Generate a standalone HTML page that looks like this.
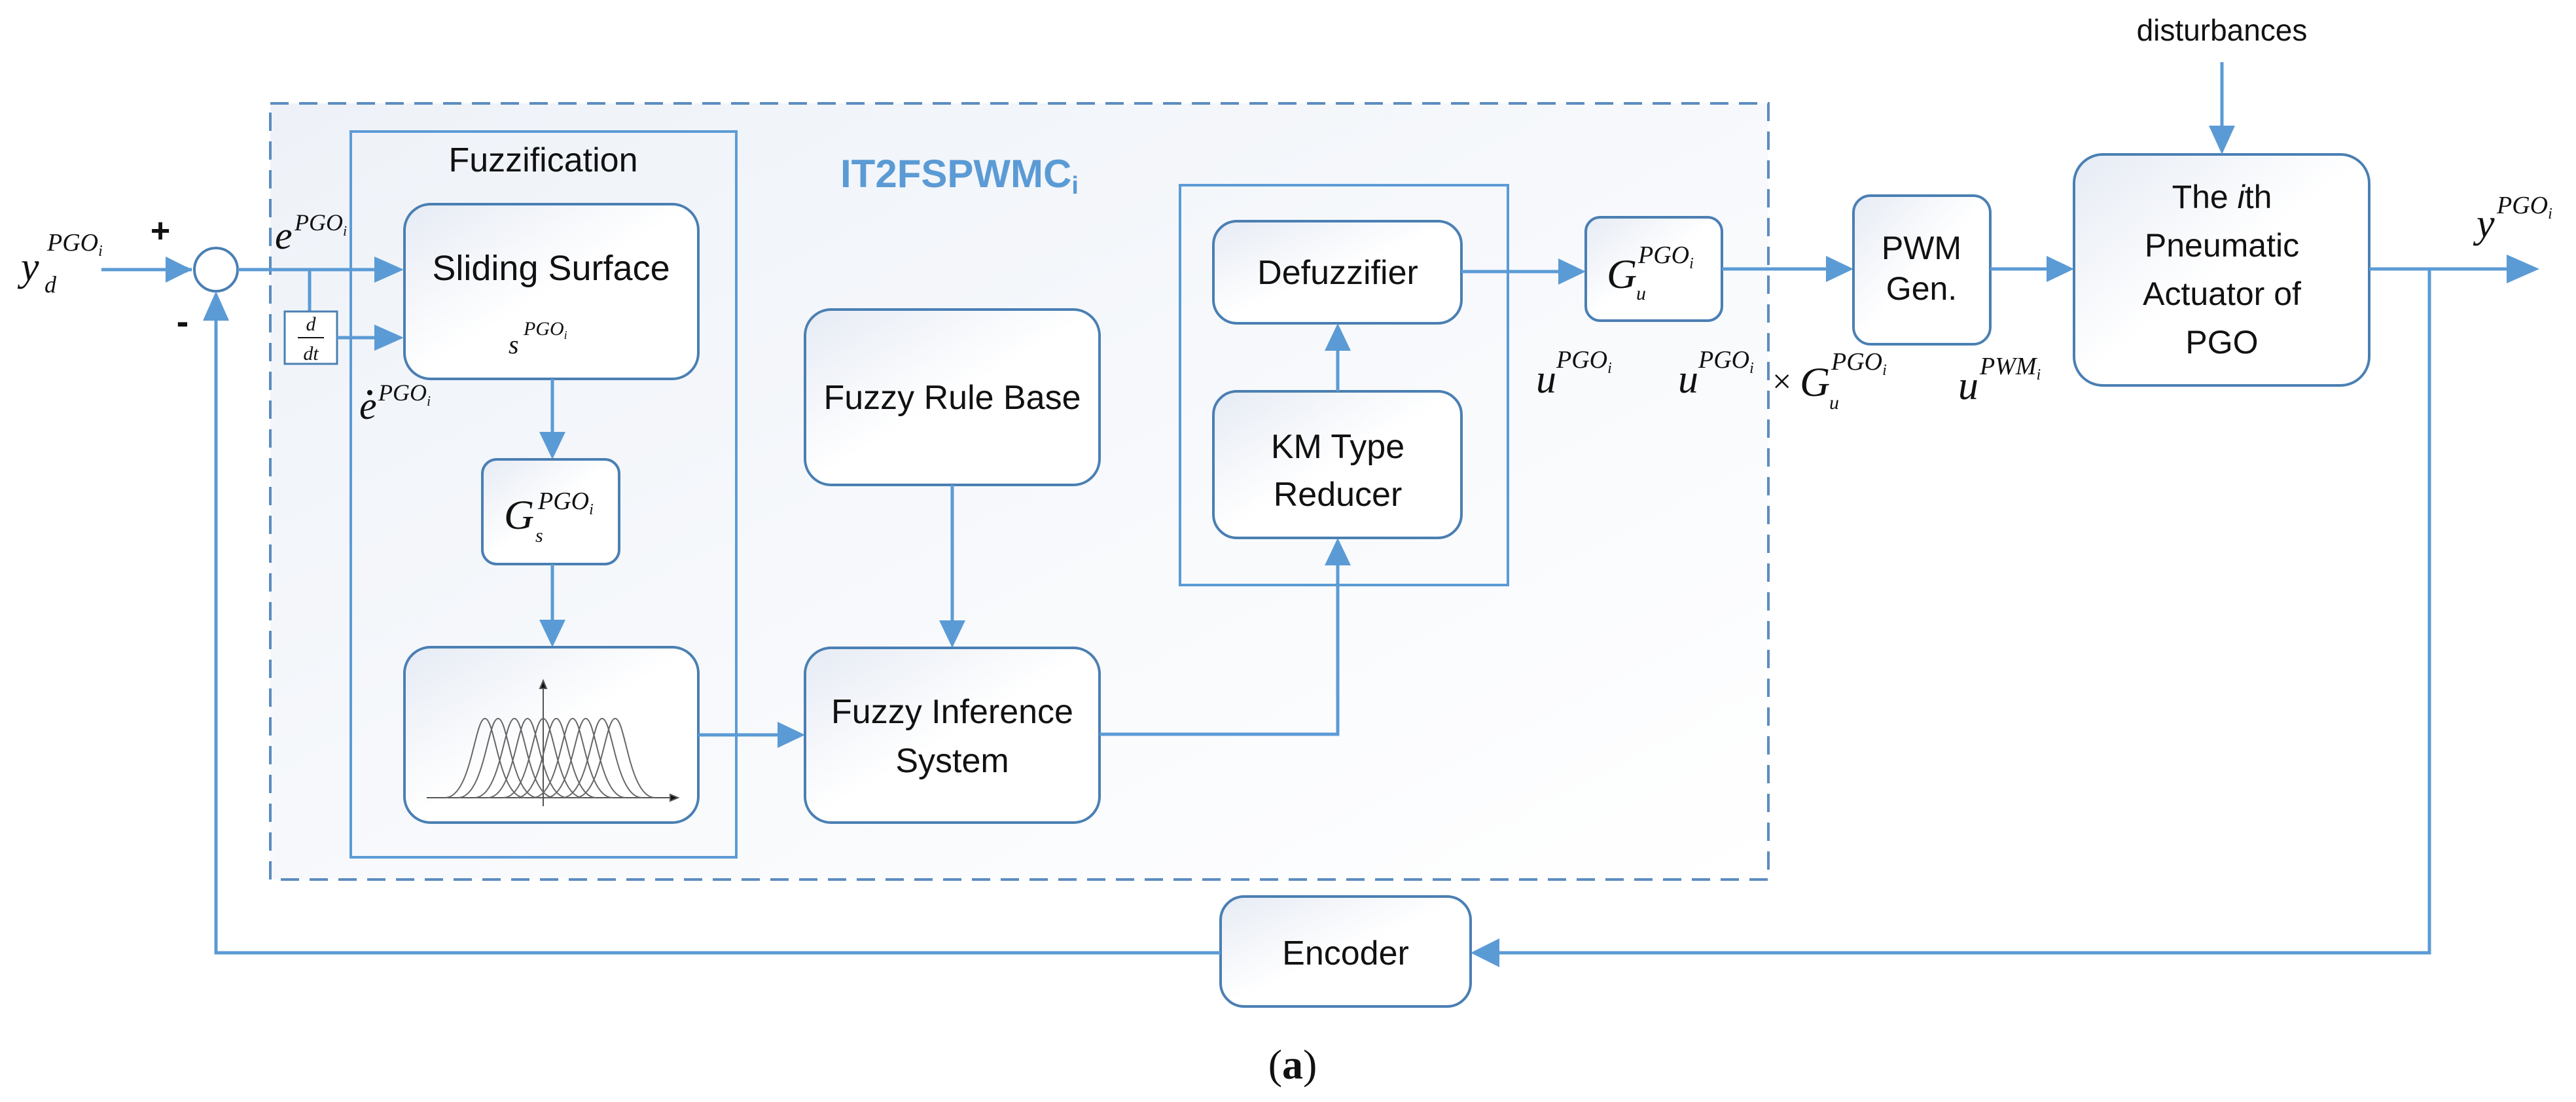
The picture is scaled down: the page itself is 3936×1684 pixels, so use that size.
<!DOCTYPE html>
<html><head><meta charset="utf-8"><style>
html,body{margin:0;padding:0;background:#fff;}
svg{display:block;}
.s{font-family:"Liberation Sans",sans-serif;fill:#111;}
.m{font-family:"Liberation Serif",serif;font-style:italic;fill:#111;}
</style></head><body>
<svg width="3936" height="1684" viewBox="0 0 3936 1684" xmlns="http://www.w3.org/2000/svg">
<defs>
<linearGradient id="bg" x1="0" y1="0" x2="1" y2="1"><stop offset="0" stop-color="#eef2f8"/><stop offset="1" stop-color="#ffffff"/></linearGradient>
<linearGradient id="bx" x1="0" y1="0" x2="1" y2="1"><stop offset="0" stop-color="#e6ebf4"/><stop offset="0.5" stop-color="#ffffff"/><stop offset="1" stop-color="#ffffff"/></linearGradient>
<marker id="ar" markerWidth="10" markerHeight="10" refX="9" refY="5" orient="auto" markerUnits="userSpaceOnUse" viewBox="0 0 10 10"><path d="M0,0 L10,5 L0,10 z" fill="#5b9bd5"/></marker>
</defs>
<style>
.ln{stroke:#5b9bd5;stroke-width:5;fill:none;}
.bxs{stroke:#4a7fb3;stroke-width:4;fill:url(#bx);}
</style>
<!-- dashed controller region -->
<rect x="413" y="158" width="2289" height="1186" fill="url(#bg)" stroke="#5b8cc0" stroke-width="4" stroke-dasharray="28,16"/>
<!-- fuzzification box -->
<rect x="536" y="201" width="589" height="1109" fill="none" stroke="#5b9bd5" stroke-width="4"/>
<text class="s" x="830" y="262" font-size="52" text-anchor="middle">Fuzzification</text>
<text x="1284" y="286" font-family="Liberation Sans,sans-serif" font-weight="bold" font-size="60" fill="#5b9bd5">IT2FSPWMC<tspan font-size="38" dy="10">i</tspan></text>
<!-- KM outer -->
<rect x="1803" y="283" width="501" height="611" fill="none" stroke="#5b9bd5" stroke-width="4"/>

<!-- sum circle -->
<circle cx="330" cy="412" r="33" fill="#fff" stroke="#4a7fb3" stroke-width="4"/>
<text class="m" x="32" y="428" font-size="62">y</text>
<text class="m" x="68" y="447" font-size="36">d</text>
<text class="m" x="72" y="383" font-size="38">PGO<tspan font-size="24" dy="8">i</tspan></text>
<text class="s" x="245" y="370" font-size="52" font-weight="bold" text-anchor="middle">+</text>
<text class="s" x="279" y="510" font-size="56" font-weight="bold" text-anchor="middle">-</text>
<line class="ln" x1="155" y1="412" x2="293" y2="412" marker-end="url(#ar)" stroke-width="5"/>
<path d="M293,412 l-40,-20 v40 z" fill="#5b9bd5"/>
<!-- e line -->
<line class="ln" x1="363" y1="412" x2="575" y2="412"/>
<path d="M617,412 l-45,-20 v40 z" fill="#5b9bd5"/>
<line class="ln" x1="473" y1="412" x2="473" y2="476"/>
<rect x="435" y="476" width="80" height="80" fill="#fff" stroke="#4a7fb3" stroke-width="3"/>
<text class="m" x="475" y="505" font-size="30" text-anchor="middle">d</text>
<line x1="455" y1="516" x2="495" y2="516" stroke="#111" stroke-width="2"/>
<text class="m" x="475" y="550" font-size="30" text-anchor="middle">dt</text>
<line class="ln" x1="515" y1="516" x2="575" y2="516"/>
<path d="M617,516 l-45,-20 v40 z" fill="#5b9bd5"/>
<text class="m" x="420" y="380" font-size="60">e</text>
<text class="m" x="450" y="352" font-size="36">PGO<tspan font-size="22" dy="8">i</tspan></text>
<text class="m" x="549" y="640" font-size="60">e</text>
<circle cx="565" cy="600" r="4" fill="#111"/>
<text class="m" x="578" y="612" font-size="36">PGO<tspan font-size="22" dy="8">i</tspan></text>

<!-- sliding surface -->
<rect class="bxs" x="618" y="312" width="449" height="267" rx="40"/>
<text class="s" x="842" y="428" font-size="54" text-anchor="middle">Sliding Surface</text>
<text class="m" x="777" y="540" font-size="40">s</text>
<text class="m" x="800" y="512" font-size="30">PGO<tspan font-size="18" dy="6">i</tspan></text>
<line class="ln" x1="844" y1="579" x2="844" y2="665"/>
<path d="M844,702 l-20,-42 h40 z" fill="#5b9bd5"/>
<!-- Gs -->
<rect class="bxs" x="737" y="702" width="209" height="160" rx="22"/>
<text class="m" x="770" y="808" font-size="64">G</text>
<text class="m" x="818" y="828" font-size="30">s</text>
<text class="m" x="822" y="778" font-size="38">PGO<tspan font-size="24" dy="8">i</tspan></text>
<line class="ln" x1="844" y1="862" x2="844" y2="950"/>
<path d="M844,989 l-20,-42 h40 z" fill="#5b9bd5"/>
<!-- membership -->
<rect class="bxs" x="618" y="989" width="449" height="268" rx="40"/>
<g stroke="#555" stroke-width="2" fill="none">
<line x1="652" y1="1219" x2="1030" y2="1219"/>
<path d="M1036,1219 l-12,-5 v10 z" fill="#111"/>
<line x1="830" y1="1232" x2="830" y2="1046"/>
<path d="M830,1040 l-5,12 h10 z" fill="#111"/>
<path id="g" d=""/>
</g>
<g stroke="#666" stroke-width="2" fill="none">
<path d="M680,1219 C720,1219 725,1098 741,1098 C757,1098 762,1219 802,1219"/>
<path d="M725,1219 C765,1219 770,1098 786,1098 C802,1098 807,1219 847,1219"/>
<path d="M769,1219 C809,1219 814,1098 830,1098 C846,1098 851,1219 891,1219"/>
<path d="M814,1219 C854,1219 859,1098 875,1098 C891,1098 896,1219 936,1219"/>
<path d="M859,1219 C899,1219 904,1098 920,1098 C936,1098 941,1219 981,1219"/>
<path d="M700,1219 C740,1219 745,1098 761,1098 C777,1098 782,1219 822,1219"/>
<path d="M745,1219 C785,1219 790,1098 806,1098 C822,1098 827,1219 867,1219"/>
<path d="M789,1219 C829,1219 834,1098 850,1098 C866,1098 871,1219 911,1219"/>
<path d="M834,1219 C874,1219 879,1098 895,1098 C911,1098 916,1219 956,1219"/>
<path d="M879,1219 C919,1219 924,1098 940,1098 C956,1098 961,1219 1001,1219"/>
</g>
<line class="ln" x1="1067" y1="1123" x2="1190" y2="1123"/>
<path d="M1230,1123 l-42,-20 v40 z" fill="#5b9bd5"/>

<!-- rule base -->
<rect class="bxs" x="1230" y="473" width="450" height="268" rx="40"/>
<text class="s" x="1455" y="625" font-size="52" text-anchor="middle">Fuzzy Rule Base</text>
<line class="ln" x1="1455" y1="741" x2="1455" y2="950"/>
<path d="M1455,990 l-20,-42 h40 z" fill="#5b9bd5"/>
<!-- inference -->
<rect class="bxs" x="1230" y="990" width="450" height="267" rx="40"/>
<text class="s" x="1455" y="1105" font-size="52" text-anchor="middle">Fuzzy Inference</text>
<text class="s" x="1455" y="1180" font-size="52" text-anchor="middle">System</text>
<polyline class="ln" points="1680,1122 2044,1122 2044,860"/>
<path d="M2044,822 l-20,42 h40 z" fill="#5b9bd5"/>
<!-- KM -->
<rect class="bxs" x="1854" y="598" width="379" height="224" rx="36"/>
<text class="s" x="2044" y="700" font-size="52" text-anchor="middle">KM Type</text>
<text class="s" x="2044" y="773" font-size="52" text-anchor="middle">Reducer</text>
<line class="ln" x1="2044" y1="598" x2="2044" y2="530"/>
<path d="M2044,494 l-20,42 h40 z" fill="#5b9bd5"/>
<rect class="bxs" x="1854" y="338" width="379" height="156" rx="36"/>
<text class="s" x="2044" y="434" font-size="52" text-anchor="middle">Defuzzifier</text>
<line class="ln" x1="2233" y1="415" x2="2385" y2="415"/>
<path d="M2423,415 l-42,-20 v40 z" fill="#5b9bd5"/>
<!-- Gu -->
<rect class="bxs" x="2423" y="332" width="208" height="158" rx="22"/>
<text class="m" x="2455" y="440" font-size="64">G</text>
<text class="m" x="2500" y="458" font-size="30">u</text>
<text class="m" x="2503" y="402" font-size="38">PGO<tspan font-size="24" dy="8">i</tspan></text>
<line class="ln" x1="2631" y1="411" x2="2790" y2="411"/>
<path d="M2832,411 l-42,-20 v40 z" fill="#5b9bd5"/>
<text class="m" x="2347" y="600" font-size="62">u</text>
<text class="m" x="2378" y="562" font-size="38">PGO<tspan font-size="24" dy="8">i</tspan></text>
<text class="m" x="2564" y="600" font-size="62">u</text>
<text class="m" x="2595" y="562" font-size="38">PGO<tspan font-size="24" dy="8">i</tspan></text>
<text x="2708" y="600" font-family="Liberation Serif,serif" font-size="52" fill="#111">×</text>
<text class="m" x="2750" y="605" font-size="64">G</text>
<text class="m" x="2795" y="625" font-size="30">u</text>
<text class="m" x="2798" y="565" font-size="38">PGO<tspan font-size="24" dy="8">i</tspan></text>
<!-- PWM -->
<rect class="bxs" x="2832" y="299" width="209" height="227" rx="26"/>
<text class="s" x="2936" y="396" font-size="50" text-anchor="middle">PWM</text>
<text class="s" x="2936" y="458" font-size="50" text-anchor="middle">Gen.</text>
<line class="ln" x1="3041" y1="411" x2="3128" y2="411"/>
<path d="M3169,411 l-42,-20 v40 z" fill="#5b9bd5"/>
<text class="m" x="2992" y="610" font-size="62">u</text>
<text class="m" x="3025" y="572" font-size="38">PWM<tspan font-size="24" dy="8">i</tspan></text>
<!-- actuator -->
<rect class="bxs" x="3169" y="236" width="451" height="353" rx="44"/>
<text class="s" x="3395" y="318" font-size="50" text-anchor="middle">The <tspan font-style="italic">i</tspan>th</text>
<text class="s" x="3395" y="392" font-size="50" text-anchor="middle">Pneumatic</text>
<text class="s" x="3395" y="466" font-size="50" text-anchor="middle">Actuator of</text>
<text class="s" x="3395" y="540" font-size="50" text-anchor="middle">PGO</text>
<text class="s" x="3395" y="62" font-size="46" text-anchor="middle">disturbances</text>
<line class="ln" x1="3395" y1="95" x2="3395" y2="195"/>
<path d="M3395,236 l-20,-44 h40 z" fill="#5b9bd5"/>
<line class="ln" x1="3620" y1="411" x2="3835" y2="411"/>
<path d="M3880,411 l-50,-22 v44 z" fill="#5b9bd5"/>
<text class="m" x="3784" y="362" font-size="62">y</text>
<text class="m" x="3815" y="326" font-size="38">PGO<tspan font-size="24" dy="8">i</tspan></text>
<!-- feedback -->
<polyline class="ln" points="3712,411 3712,1456 2290,1456"/>
<path d="M2247,1456 l44,-22 v44 z" fill="#5b9bd5"/>
<rect class="bxs" x="1865" y="1370" width="382" height="168" rx="36"/>
<text class="s" x="2056" y="1474" font-size="52" text-anchor="middle">Encoder</text>
<polyline class="ln" points="1865,1456 330,1456 330,490"/>
<path d="M330,445 l-20,45 h40 z" fill="#5b9bd5"/>
<text x="1975" y="1648" font-family="Liberation Serif,serif" font-size="64" text-anchor="middle" fill="#111">(<tspan font-weight="bold">a</tspan>)</text>
</svg>
</body></html>
